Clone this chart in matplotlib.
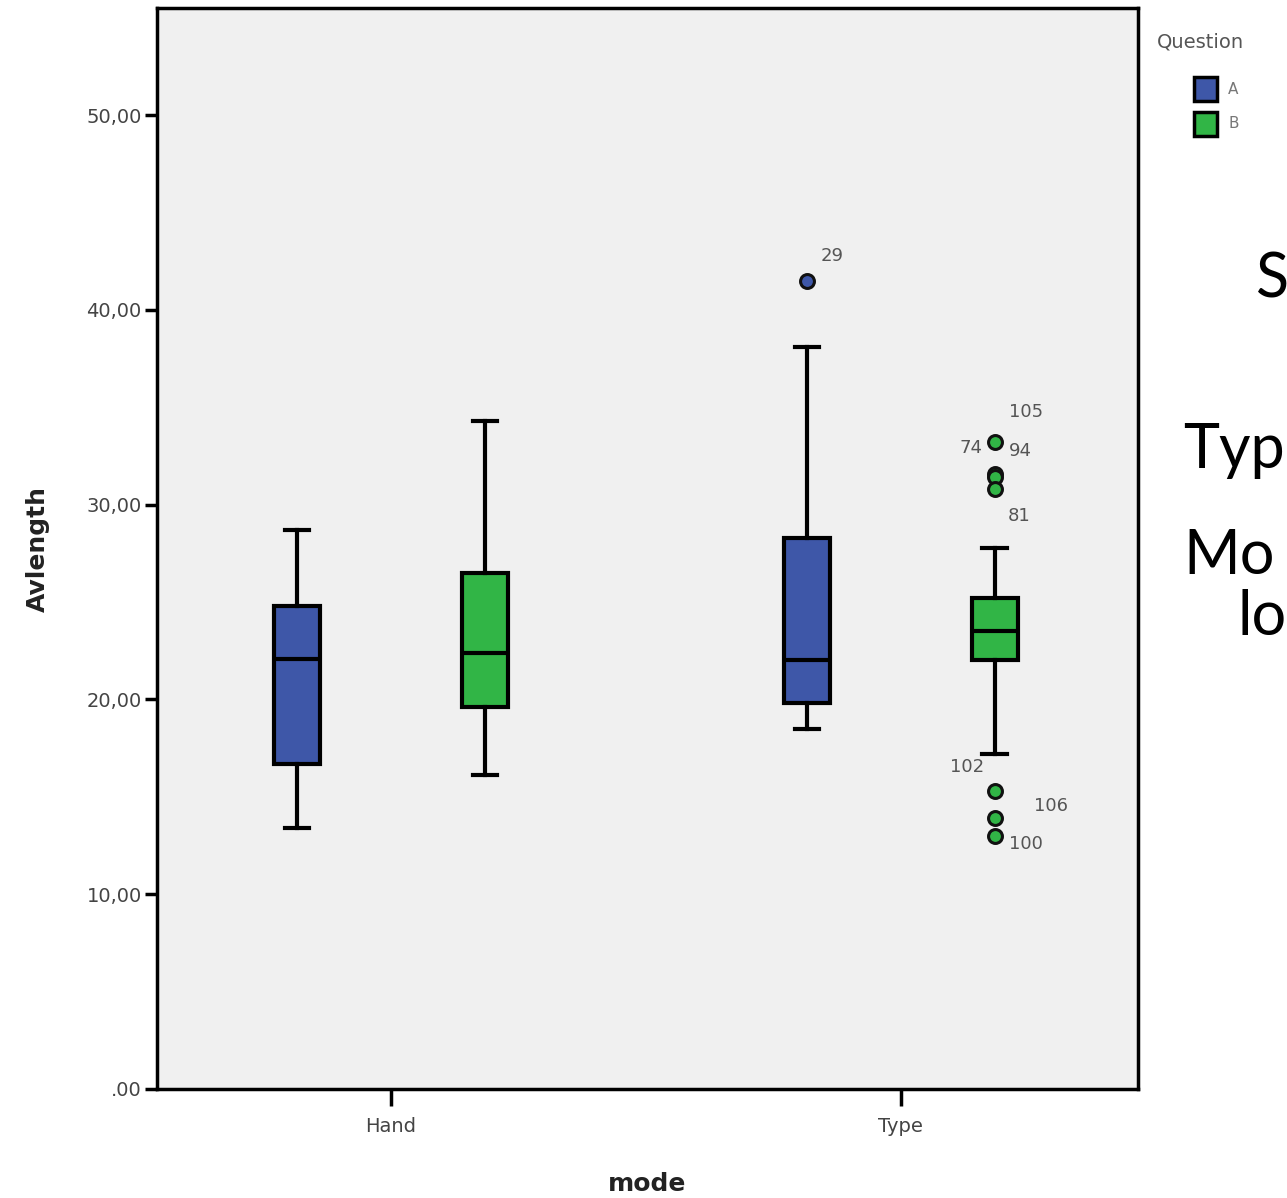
import matplotlib
matplotlib.use("Agg")
import matplotlib.pyplot as plt
from matplotlib.patches import Rectangle

# ---- data ----
modes = ["Hand", "Type"]
questions = ["A", "B"]
group_labels = ["Hand-A", "Hand-B", "Type-A", "Type-B"]
whisker_low = [13.4, 16.1, 18.5, 17.2]
q1 = [16.7, 19.6, 19.8, 22.0]
median = [22.1, 22.4, 22.0, 23.5]
q3 = [24.8, 26.5, 28.3, 25.2]
whisker_high = [28.7, 34.3, 38.1, 27.8]
outliers = [[], [], [41.5], [33.2, 31.6, 31.4, 30.8, 15.3, 13.9, 13.0]]
outlier_ids = [[], [], ["29"], ["105", "74", "94", "81", "102", "106", "100"]]
y_ticks = [0, 10, 20, 30, 40, 50]
y_tick_labels = [".00", "10,00", "20,00", "30,00", "40,00", "50,00"]

colors = {"A": "#3e57a8", "B": "#31b546"}

fig = plt.figure(figsize=(12.87, 11.98), dpi=100)
fig.patch.set_facecolor("white")
ax = fig.add_axes([157/1287, 1 - 1089/1198, (1138-157)/1287, (1089-8)/1198])
ax.set_facecolor("#f0f0f0")

offset = 0.184
stats = []
positions = []
for i, name in enumerate(group_labels):
    m = i // 2
    qi = i % 2
    positions.append(m + (-offset if qi == 0 else offset))
    stats.append(dict(med=median[i], q1=q1[i], q3=q3[i], whislo=whisker_low[i],
                      whishi=whisker_high[i], fliers=outliers[i], label=name))

bp = ax.bxp(stats, positions=positions, widths=0.09, capwidths=0.048,
            patch_artist=True, showfliers=True,
            boxprops=dict(linewidth=3, edgecolor="black"),
            medianprops=dict(color="black", linewidth=3),
            whiskerprops=dict(color="black", linewidth=3),
            capprops=dict(color="black", linewidth=3),
            flierprops=dict(marker="o", markersize=10, markeredgecolor="#111111",
                            markeredgewidth=2.2))
for i, box in enumerate(bp["boxes"]):
    c = colors[questions[i % 2]]
    box.set_facecolor(c)
for i, fl in enumerate(bp["fliers"]):
    fl.set_markerfacecolor(colors[questions[i % 2]])

# outlier id labels (pixel offsets)
label_offsets = {"29": (25, 25), "105": (31, 30), "74": (-24, 26), "94": (26, 26),
                 "81": (24, -27), "102": (-28, 24), "106": (56, 12), "100": (31, -8)}
for i in range(len(group_labels)):
    for v, lab in zip(outliers[i], outlier_ids[i]):
        dx, dy = label_offsets[lab]
        ax.annotate(lab, (positions[i], v), xytext=(dx * 0.72, dy * 0.72),
                    textcoords="offset points", ha="center", va="center",
                    fontsize=13, color="#555555")

ax.set_xlim(-0.459, 1.465)
ax.set_ylim(0, 55.5)
ax.set_xticks([0, 1])
ax.set_xticklabels(modes)
ax.set_yticks(y_ticks)
ax.set_yticklabels(y_tick_labels)
ax.tick_params(axis="both", direction="out", width=2.5, color="black",
               labelsize=14, labelcolor="#444444")
ax.tick_params(axis="y", length=9, pad=2)
ax.tick_params(axis="x", length=12, pad=8)
for s in ax.spines.values():
    s.set_linewidth(2.5)
    s.set_color("black")

ax.set_xlabel("mode", fontsize=18, fontweight="bold", color="#222222", labelpad=26)
ax.set_ylabel("Avlength", fontsize=18, fontweight="bold", color="#222222", labelpad=26)

# legend
fig.text(1157/1287, 1 - 42/1198, "Question", fontsize=14, color="#555555",
         ha="left", va="center")
for j, q in enumerate(questions):
    y0 = 1 - (101 + j * 35) / 1198
    fig.add_artist(Rectangle((1194/1287, y0), 23/1287, 24/1198,
                             transform=fig.transFigure, facecolor=colors[q],
                             edgecolor="black", linewidth=2.5))
    fig.text(1228/1287, y0 + 12/1198, q, fontsize=11, color="#777777",
             ha="left", va="center")

# slide text fragments on right
for txt, x, y in [("S", 1256, 280), ("Typ", 1183, 450), ("Mo", 1183, 557), ("lo", 1237, 617)]:
    fig.text(x/1287, 1 - y/1198, txt, fontsize=44, family="Lato", color="black",
             ha="left", va="center")

fig.savefig("out.png", dpi=100)
